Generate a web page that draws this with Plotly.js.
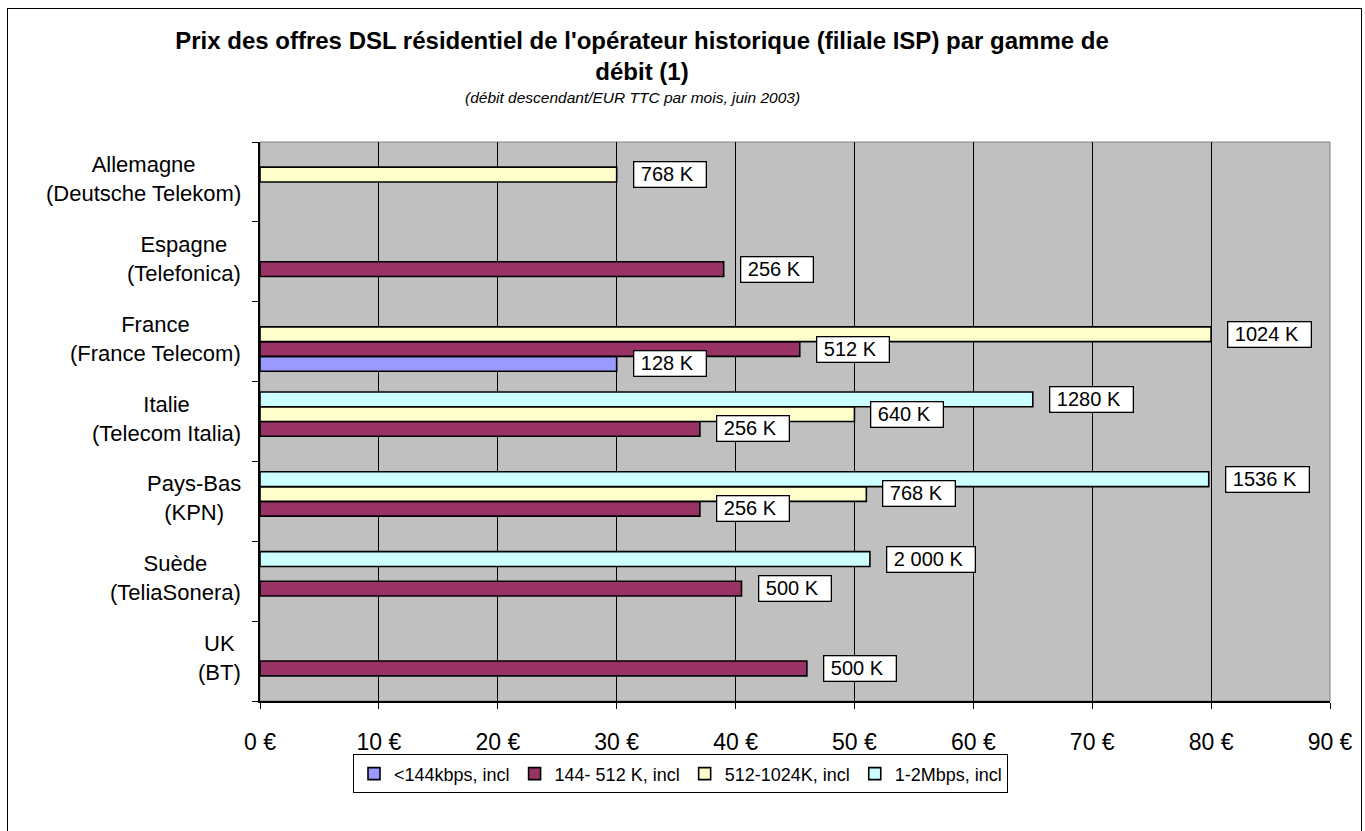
<!DOCTYPE html>
<html>
<head>
<meta charset="utf-8">
<script src="https://cdn.plot.ly/plotly-3.0.1.min.js"></script>
<style>
  html, body { margin: 0; padding: 0; background: #ffffff; }
  #chart { width: 1365px; height: 831px; position: relative; }
  #frame { position: absolute; left: 7px; top: 8px; width: 1353px; height: 840px; border: 1px solid #000; pointer-events: none; }
</style>
</head>
<body>
<div id="chart"></div>
<div id="frame"></div>
<script>
// ---- data ----
const categories = [
  "Allemagne<br>(Deutsche Telekom)",
  "Espagne<br>(Telefonica)",
  "France<br>(France Telecom)",
  "Italie<br>(Telecom Italia)",
  "Pays-Bas<br>(KPN)",
  "Suède<br>(TeliaSonera)",
  "UK<br>(BT)"
];
const seriesNames = ["<144kbps, incl", "144- 512 K, incl", "512-1024K, incl", "1-2Mbps, incl"];
const valsLt144   = [null, null, 30,   null, null, null, null];
const vals144_512 = [null, 39,   45.4, 37,   37,   40.5, 46];
const vals512_1024= [30,   null, 80,   50,   51,   null, null];
const vals1_2M    = [null, null, null, 65,   79.8, 51.3, null];
const lblLt144    = [null, null, "128 K", null, null, null, null];
const lbl144_512  = [null, "256 K", "512 K", "256 K", "256 K", "500 K", "500 K"];
const lbl512_1024 = ["768 K", null, "1024 K", "640 K", "768 K", null, null];
const lbl1_2M     = [null, null, null, "1280 K", "1536 K", "2 000 K", null];
const xTicks = [0, 10, 20, 30, 40, 50, 60, 70, 80, 90];

// ---- styles ----
const colors = ["#9999FF", "#993366", "#FFFFCC", "#CCFFFF"];
const allVals = [valsLt144, vals144_512, vals512_1024, vals1_2M];
const allLbls = [lblLt144, lbl144_512, lbl512_1024, lbl1_2M];
const FONT = "Liberation Sans, Arial, sans-serif";
const bargap = 0.26;

const bottomToTop = categories.slice().reverse();

const traces = allVals.map((v, i) => ({
  type: "bar",
  orientation: "h",
  name: seriesNames[i],
  y: categories,
  x: v,
  marker: { color: colors[i], line: { color: "#000000", width: 1.6 } },
  hoverinfo: "x+name"
}));

const annotations = [];
// category labels (centered lines, right-aligned block)
categories.forEach((c) => {
  annotations.push({
    xref: "paper", yref: "y", x: 0, y: bottomToTop.indexOf(c),
    xanchor: "right", yanchor: "middle", xshift: -17, yshift: 3,
    text: c, align: "center", showarrow: false,
    font: { family: FONT, size: 22, color: "#000" }
  });
});
// data labels
const gw = 1 - bargap, sw = gw / 4;
allLbls.forEach((arr, i) => {
  arr.forEach((t, k) => {
    if (t === null) return;
    const idx = bottomToTop.indexOf(categories[k]);
    annotations.push({
      xref: "x", yref: "y", x: allVals[i][k],
      y: idx - gw / 2 + (i + 0.5) * sw,
      xanchor: "left", yanchor: "middle", xshift: 16,
      text: "&nbsp;" + t + "&nbsp;&nbsp;", showarrow: false, align: "left",
      bgcolor: "#FFFFFF", bordercolor: "#000000", borderwidth: 1.3, borderpad: 1,
      font: { family: FONT, size: 20, color: "#000" }
    });
  });
});
annotations.push({
  xref: "paper", yref: "paper", x: (632 - 260) / 1070, y: 1 + (141.5 - 97) / 560,
  xanchor: "center", yanchor: "middle", showarrow: false,
  text: "<i>(débit descendant/EUR TTC par mois, juin 2003)</i>",
  font: { family: FONT, size: 15.5, color: "#000" }
});

const layout = {
  width: 1365, height: 831,
  paper_bgcolor: "#FFFFFF", plot_bgcolor: "#C0C0C0",
  margin: { l: 260, r: 35, t: 141.5, b: 129.5 },
  title: {
    text: "<b>Prix des offres DSL résidentiel de l'opérateur historique (filiale ISP) par gamme de<br>débit (1)</b>",
    x: 642 / 1365, xanchor: "center", xref: "container",
    y: 1 - 49 / 831, yanchor: "middle", yref: "container",
    font: { family: FONT, size: 24, color: "#000" }
  },
  barmode: "group", bargap: bargap, bargroupgap: 0,
  showlegend: true,
  legend: {
    orientation: "h", traceorder: "normal",
    x: (680.5 - 260) / 1070, xanchor: "center",
    y: -(755 - 701.5) / 560, yanchor: "top",
    bgcolor: "#FFFFFF", bordercolor: "#000000", borderwidth: 1,
    font: { family: FONT, size: 18, color: "#000" },
    itemclick: false, itemwidth: 30
  },
  xaxis: {
    range: [0, 90], tickvals: xTicks, ticktext: xTicks.map(v => v + " €"),
    showgrid: true, gridcolor: "#000000", gridwidth: 1,
    ticks: "outside", ticklen: 6, tickcolor: "#000", tickwidth: 1,
    ticklabelstandoff: 14,
    showline: true, linecolor: "#000000", linewidth: 1.5,
    zeroline: false, fixedrange: true,
    tickfont: { family: FONT, size: 23, color: "#000" }
  },
  yaxis: {
    type: "category", categoryorder: "array", categoryarray: bottomToTop,
    range: [-0.5, 6.5], tickson: "boundaries",
    ticks: "outside", ticklen: 6, tickcolor: "#000", tickwidth: 1,
    showticklabels: false, showgrid: false,
    showline: true, linecolor: "#000000", linewidth: 1.5,
    zeroline: false, fixedrange: true
  },
  shapes: [{
    type: "rect", xref: "paper", yref: "paper", x0: 0, x1: 1, y0: 0, y1: 1,
    line: { color: "#808080", width: 1 }, layer: "below"
  }],
  annotations: annotations
};

Plotly.newPlot("chart", traces, layout, { displayModeBar: false });
</script>
</body>
</html>
